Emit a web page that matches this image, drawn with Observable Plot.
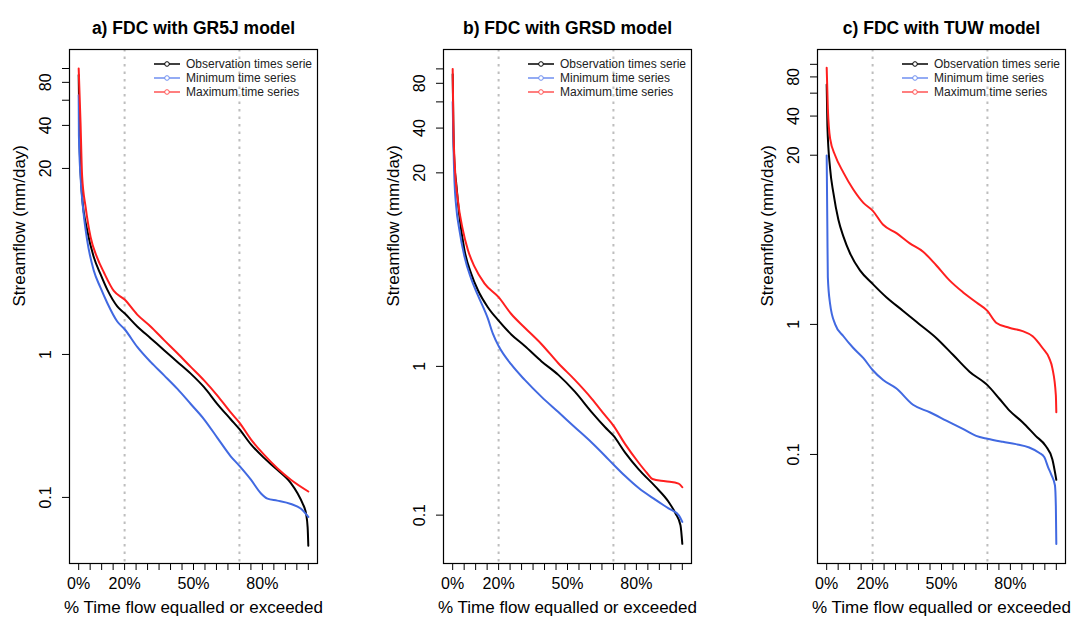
<!DOCTYPE html>
<html><head><meta charset="utf-8">
<script src="https://cdn.jsdelivr.net/npm/d3@7"></script>
<script src="https://cdn.jsdelivr.net/npm/@observablehq/plot@0.6"></script>
<style>
body{margin:0;background:#fff;width:1074px;height:624px;overflow:hidden;font-family:"Liberation Sans",Arial,sans-serif}
#wrap{position:relative;width:1074px;height:624px}
.panel{position:absolute;top:0}
</style></head><body><div id="wrap"></div>
<script>
// ---- text / labels ----
const titles = ["a) FDC with GR5J model", "b) FDC with GRSD model", "c) FDC with TUW model"];
const seriesNames = ["Observation times serie", "Minimum time series", "Maximum time series"];
const seriesColors = ["#000000", "#4169e1", "#ff1f1f"];
const legendColors = ["#000000", "#6f8ff0", "#ff5555"];
const xLabel = "% Time flow equalled or exceeded";
const yLabel = "Streamflow (mm/day)";
const xTicks = d3.range(0, 101, 5);
const xTickLabels = {0: "0%", 20: "20%", 50: "50%", 80: "80%"};
const yTicks = [0.1, 1, 20, 40, 60, 80, 100];
const yLabelTicks = [0.1, 1, 20, 40, 80];
const refLines = [20, 70];
const xDomain = [-4, 104];
const yDomains = [[0.0345, 135.8], [0.0473, 135], [0.0145, 130]];

// ---- data: [% time exceeded, streamflow mm/day] ----
const gr5jObs = [[0,90],[0.4,30],[1.5,12.7],[3.7,7.4],[6.6,4.78],[9.5,3.64],[12.4,2.85],[16.8,2.17],[20,1.94],[25.5,1.57],[31.3,1.30],[37.2,1.07],[43,0.887],[48.8,0.734],[54.6,0.59],[60.4,0.45],[66.2,0.352],[70,0.30],[75,0.235],[80.7,0.189],[86.5,0.156],[92.4,0.126],[95.3,0.107],[97.5,0.0908],[99,0.077],[99.7,0.062],[100,0.046]];
const gr5jMin = [[0,65],[0.1,33.7],[0.8,17.6],[2,10.2],[3.7,6.27],[6.6,3.85],[9.5,2.93],[12.4,2.30],[16.8,1.70],[20,1.50],[25.5,1.13],[31.3,0.887],[37.2,0.714],[43,0.574],[48.8,0.45],[54.6,0.352],[60.4,0.261],[66.2,0.194],[70,0.166],[75,0.133],[79.3,0.107],[82.2,0.098],[86.5,0.095],[92.4,0.090],[96.7,0.0836],[100,0.073]];
const gr5jMax = [[0,100],[0.8,42],[1.5,17.6],[3,10.8],[5.2,6.6],[8,4.78],[11,3.74],[15.3,2.78],[20,2.42],[25.5,1.90],[31.3,1.57],[37.2,1.26],[43,1.02],[48.8,0.818],[54.6,0.658],[60.4,0.515],[66.2,0.393],[70,0.334],[75,0.255],[80.7,0.199],[86.5,0.160],[92.4,0.133],[100,0.110]];

const grsdObs = [[0,92],[0.3,40],[0.8,22.5],[1.5,17.3],[2.9,10.3],[5.1,6.08],[8,4.22],[11,3.25],[15.3,2.5],[20,2.03],[25.5,1.64],[31.4,1.37],[38.7,1.08],[46,0.877],[53.2,0.676],[60.5,0.493],[66.4,0.39],[70,0.342],[75.1,0.263],[81,0.203],[88.2,0.156],[94,0.123],[97,0.103],[99.2,0.0855],[100,0.0641]];
const grsdMin = [[0,60],[0.3,32.5],[0.8,17.3],[1.5,12],[2.9,8.3],[5.1,5.5],[8,3.9],[11,3.0],[15.3,2.1],[17.5,1.66],[20,1.37],[25.5,1.03],[31.4,0.811],[38.7,0.624],[46,0.493],[53.2,0.39],[60.5,0.308],[66.4,0.25],[70,0.219],[75.1,0.183],[81,0.152],[88.2,0.127],[94,0.111],[98.4,0.1],[100,0.09]];
const grsdMax = [[0,100],[0.3,42],[1,21.4],[2.2,13.3],[4.4,8.3],[6.6,6.08],[9.5,4.68],[13.9,3.6],[20,2.92],[25.5,2.25],[31.4,1.82],[38.7,1.41],[46,1.05],[53.2,0.811],[60.5,0.608],[66.4,0.468],[70,0.40],[75.1,0.30],[81,0.225],[84.6,0.192],[87,0.175],[92.6,0.169],[98.4,0.163],[100,0.154]];

const tuwObs = [[0,70],[0.3,34],[1.5,15.7],[2.9,10.3],[5.1,6.38],[7.3,4.73],[10.2,3.51],[14.5,2.6],[20,2.05],[26.1,1.61],[33.3,1.27],[40.5,1.0],[47.7,0.787],[55,0.584],[62.2,0.433],[70,0.341],[75.2,0.268],[79.5,0.218],[85.3,0.177],[91,0.139],[95.4,0.116],[98.3,0.0914],[100,0.0638]];
const tuwMin = [[0,19.9],[0.3,5.3],[0.5,2.31],[1.5,1.43],[3.7,1.0],[7.3,0.811],[11.6,0.658],[16,0.55],[20,0.446],[24.6,0.373],[30.4,0.321],[37.6,0.241],[44.9,0.211],[52.1,0.182],[59.3,0.157],[65.1,0.139],[70,0.132],[76.7,0.125],[82.4,0.12],[88.2,0.113],[92.5,0.103],[94.8,0.095],[96.4,0.08],[97.8,0.07],[99.4,0.058],[99.8,0.04],[100,0.0205]];
const tuwMax = [[0,94],[0.5,46],[1.5,26.8],[3.7,19.9],[7.3,14.7],[11.6,10.9],[16,8.61],[20,7.5],[24.6,5.84],[30.4,5.03],[36.2,4.2],[42,3.62],[47.7,2.85],[53.5,2.18],[59.3,1.77],[65.1,1.48],[70,1.27],[73.8,1.03],[79.5,0.942],[85.3,0.887],[89.7,0.811],[94,0.658],[96.9,0.55],[98.3,0.459],[99.8,0.285],[100,0.211]];

const panelSeries = [[gr5jObs, gr5jMin, gr5jMax], [grsdObs, grsdMin, grsdMax], [tuwObs, tuwMin, tuwMax]];
const panelLeft = [0, 374, 748];
const panelWidth = [374, 374, 326];

const wrap = document.getElementById("wrap");
const font = "'Liberation Sans', Arial, sans-serif";

panelSeries.forEach((series, i) => {
  const marginLeft = 69, plotW = 248;
  const svg = Plot.plot({
    width: panelWidth[i], height: 624,
    marginLeft, marginRight: panelWidth[i] - marginLeft - plotW, marginTop: 49, marginBottom: 61,
    style: {fontFamily: font, fontSize: "16px", color: "#000", background: "transparent", overflow: "visible"},
    x: {domain: xDomain},
    y: {type: "log", domain: yDomains[i]},
    marks: [
      Plot.ruleX(refLines, {stroke: "#bebebe", strokeWidth: 2, strokeDasharray: "2.5,5"}),
      ...series.map((s, k) => Plot.line(s, {x: d => d[0], y: d => d[1], stroke: seriesColors[k], strokeWidth: 2, curve: "monotone-x"})),
      Plot.frame({stroke: "#000", strokeWidth: 1.2}),
      Plot.axisX({ticks: xTicks, tickFormat: d => xTickLabels[d] ?? "", tickSize: 7, tickPadding: 7, label: null, fontSize: 16}),
      Plot.axisY({ticks: yTicks, tickFormat: () => "", tickSize: 7, label: null}),
      Plot.text(yLabelTicks, {y: d => d, text: d => String(d), frameAnchor: "left", dx: -24, rotate: -90, textAnchor: "middle", lineAnchor: "middle", fontSize: 16}),
      Plot.text([titles[i]], {text: d => d, frameAnchor: "top", dy: -28, fontWeight: "bold", fontSize: 17.5}),
      Plot.text([xLabel], {text: d => d, frameAnchor: "bottom", dy: 49, fontSize: 17}),
      Plot.text([yLabel], {text: d => d, frameAnchor: "left", dx: -50, rotate: -90, fontSize: 17})
    ]
  });
  // legend (top-right inside the frame)
  const right = marginLeft + plotW;
  const g = d3.select(svg).append("g").attr("font-family", font).attr("font-size", 12).attr("text-anchor", "start");
  seriesNames.forEach((name, k) => {
    const y = 64 + k * 14;
    g.append("line").attr("x1", right - 163).attr("x2", right - 137).attr("y1", y).attr("y2", y)
      .attr("stroke", legendColors[k]).attr("stroke-width", 1.5);
    g.append("circle").attr("cx", right - 150).attr("cy", y).attr("r", 2.3)
      .attr("fill", "#fff").attr("stroke", legendColors[k]).attr("stroke-width", 1);
    g.append("text").attr("x", right - 131).attr("y", y).attr("dy", "0.35em").attr("fill", "#222")
      .attr("text-anchor", "start").text(name);
  });
  const div = document.createElement("div");
  div.className = "panel";
  div.style.left = panelLeft[i] + "px";
  div.appendChild(svg);
  wrap.appendChild(div);
});
</script></body></html>
